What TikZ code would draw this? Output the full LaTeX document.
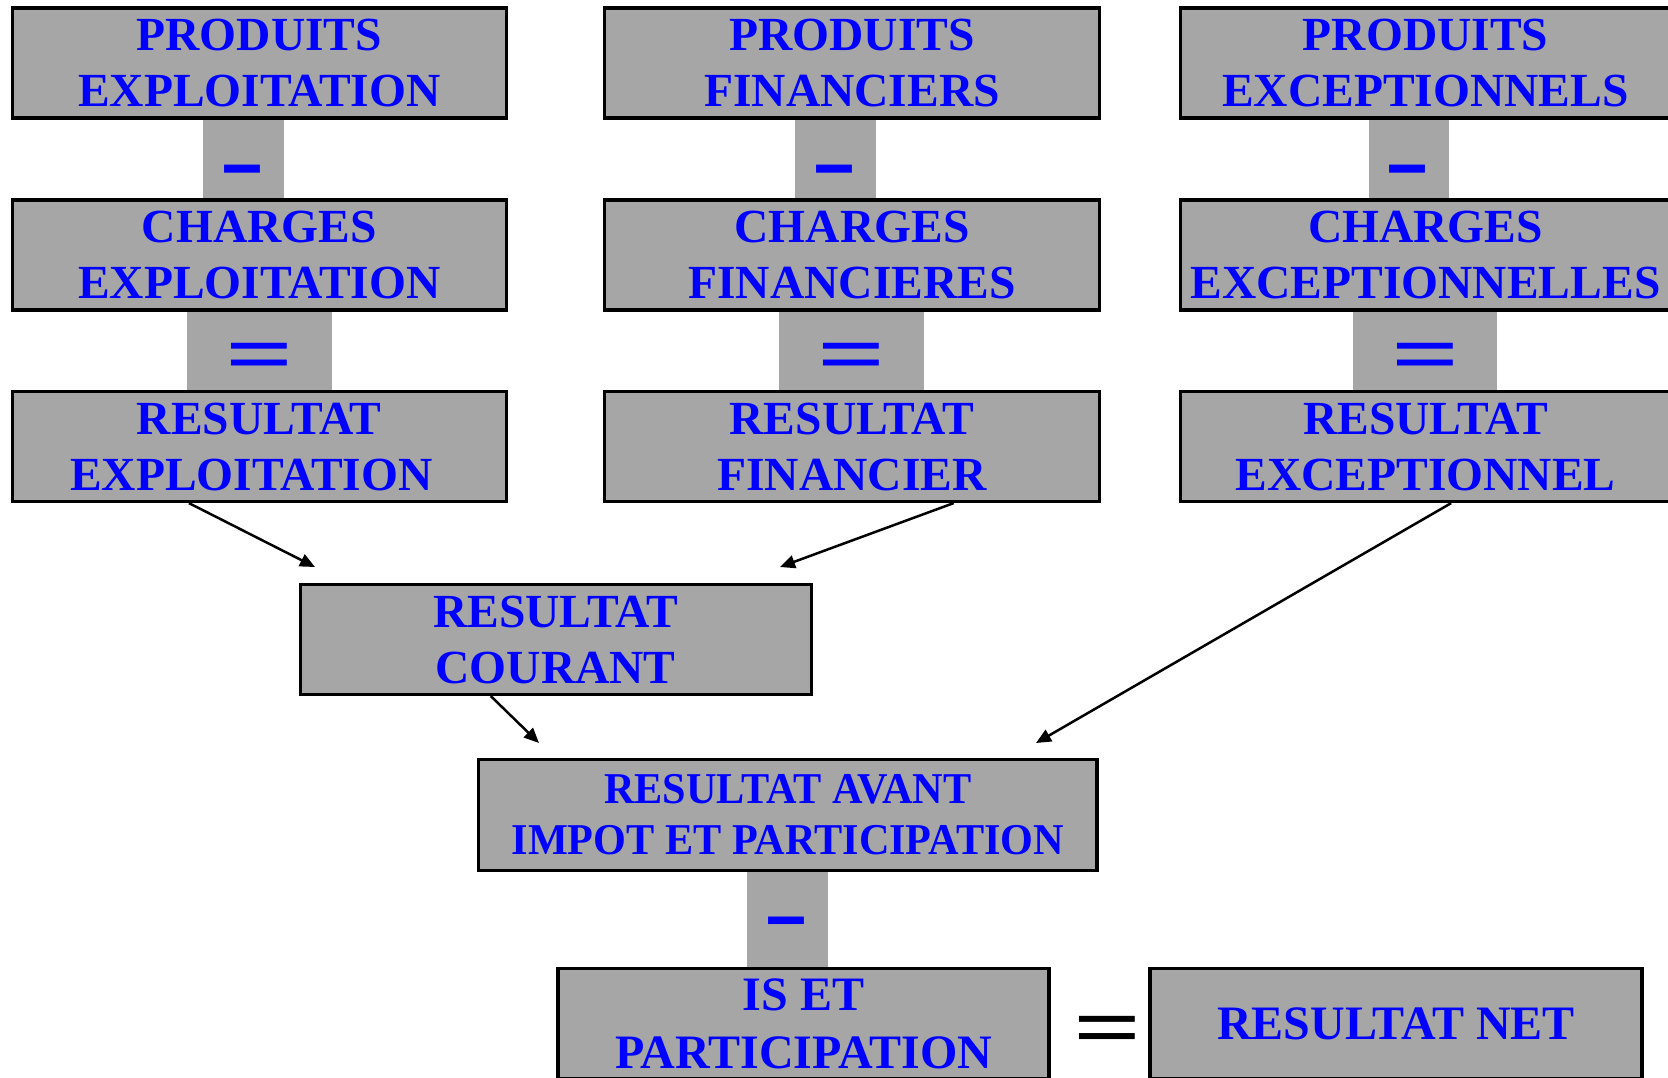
\documentclass[tikz,border=0pt]{standalone}
\usepackage{fontspec}
\usepackage{graphicx}
\setmainfont{Liberation Serif}
\newfontfamily\condA[FakeStretch=0.96]{Liberation Serif}
\usetikzlibrary{arrows.meta,calc}
\definecolor{boxgrey}{RGB}{166,166,166}
\definecolor{txtblue}{RGB}{0,0,255}
\newcommand\opminus[1]{\scalebox{1.38}[#1]{\fontsize{100pt}{100pt}\selectfont\bfseries -}}
\newcommand\opequal[1]{\scalebox{1.2}[#1]{\fontsize{100pt}{100pt}\selectfont\bfseries =}}
\begin{document}
\begin{tikzpicture}[x=1pt,y=-1pt,
  box/.style={draw=black,line width=3.2pt,fill=boxgrey,rectangle,inner sep=0pt,
    minimum height=110pt,align=center,text=txtblue,
    font=\fontsize{47.5pt}{56pt}\selectfont\bfseries},
  opblock/.style={fill=boxgrey,rectangle,inner sep=0pt,draw=none},
  opglyph/.style={inner sep=0pt,anchor=base,text=txtblue},
  arr/.style={line width=2.5pt,-{Triangle[length=15pt,width=13pt]}}]
\useasboundingbox (0,0) rectangle (1668,1077);
\clip (0,0) rectangle (1668,1077);
% operator blocks
\node[opblock,minimum width=81pt,minimum height=79pt] (b1m) at (243.5,158.5) {};
\node[opblock,minimum width=145pt,minimum height=78pt] (b1e) at (259.5,351) {};
\node[opblock,minimum width=81pt,minimum height=79pt] (b2m) at (835.5,158.5) {};
\node[opblock,minimum width=145pt,minimum height=78pt] (b2e) at (851.5,351) {};
\node[opblock,minimum width=80pt,minimum height=79pt] (b3m) at (1409,158.5) {};
\node[opblock,minimum width=144pt,minimum height=78pt] (b3e) at (1425,351) {};
\node[opblock,minimum width=81pt,minimum height=95pt] (b4m) at (787.5,919.5) {};
% column 1
\node[box,minimum width=494pt] (pe) at (259.3,63) {PRODUITS\\EXPLOITATION};
\node[box,minimum width=494pt] (ce) at (259.3,255) {CHARGES\\EXPLOITATION};
\node[box,minimum width=494pt] (re) at (259.3,446.5) {RESULTAT\\EXPLOITATION\hspace*{16pt}};
% column 2
\node[box,minimum width=495pt] (pf) at (852,63) {PRODUITS\\FINANCIERS};
\node[box,minimum width=495pt] (cf) at (852,255) {CHARGES\\FINANCIERES};
\node[box,minimum width=495pt] (rf) at (852,446.5) {RESULTAT\\FINANCIER};
% column 3
\node[box,minimum width=490pt] (px) at (1425.5,63) {PRODUITS\\EXCEPTIONNELS};
\node[box,minimum width=490pt] (cx) at (1425.5,255) {CHARGES\\EXCEPTIONNELLES};
\node[box,minimum width=490pt] (rx) at (1425.5,446.5) {RESULTAT\\EXCEPTIONNEL};
% lower boxes
\node[box,minimum width=511pt] (rc) at (555.6,639.5) {RESULTAT\\COURANT};
\node[box,minimum width=618.5pt,minimum height=111pt,
  font=\condA\fontsize{44pt}{51pt}\selectfont\bfseries] (rai) at (787.8,815)
  {RESULTAT AVANT\\IMPOT ET PARTICIPATION};
\node[box,minimum width=491pt,
  font=\fontsize{48pt}{58pt}\selectfont\bfseries] (isp) at (803.5,1023.5)
  {IS ET\\PARTICIPATION};
\node[box,minimum width=492pt,
  font=\fontsize{48pt}{58pt}\selectfont\bfseries] (rn) at (1396,1023.5)
  {RESULTAT NET};
% operator glyphs
\node[opglyph] (g1m) at (242,191.8) {\opminus{0.95}};
\node[opglyph] (g1e) at (259.5,382.7) {\opequal{0.84}};
\node[opglyph] (g2m) at (834,191.8) {\opminus{0.95}};
\node[opglyph] (g2e) at (851.5,382.7) {\opequal{0.84}};
\node[opglyph] (g3m) at (1407,191.8) {\opminus{0.95}};
\node[opglyph] (g3e) at (1425.5,382.7) {\opequal{0.84}};
\node[opglyph] (g4m) at (786,941.8) {\opminus{0.88}};
\node[opglyph,text=black] (g5e) at (1108,1056) {\opequal{0.86}};
% arrows
\coordinate (t1) at (315,567);
\coordinate (t2) at (780,567);
\coordinate (t3) at (539,743);
\coordinate (t4) at (1036,743);
\draw[arr] ($(re.south west)!0.3585!(re.south east)$) -- (t1);
\draw[arr] ($(rf.south west)!0.704!(rf.south east)$) -- (t2);
\draw[arr] ($(rc.south west)!0.374!(rc.south east)$) -- (t3);
\draw[arr] ($(rx.south west)!0.552!(rx.south east)$) -- (t4);
\end{tikzpicture}
\end{document}
